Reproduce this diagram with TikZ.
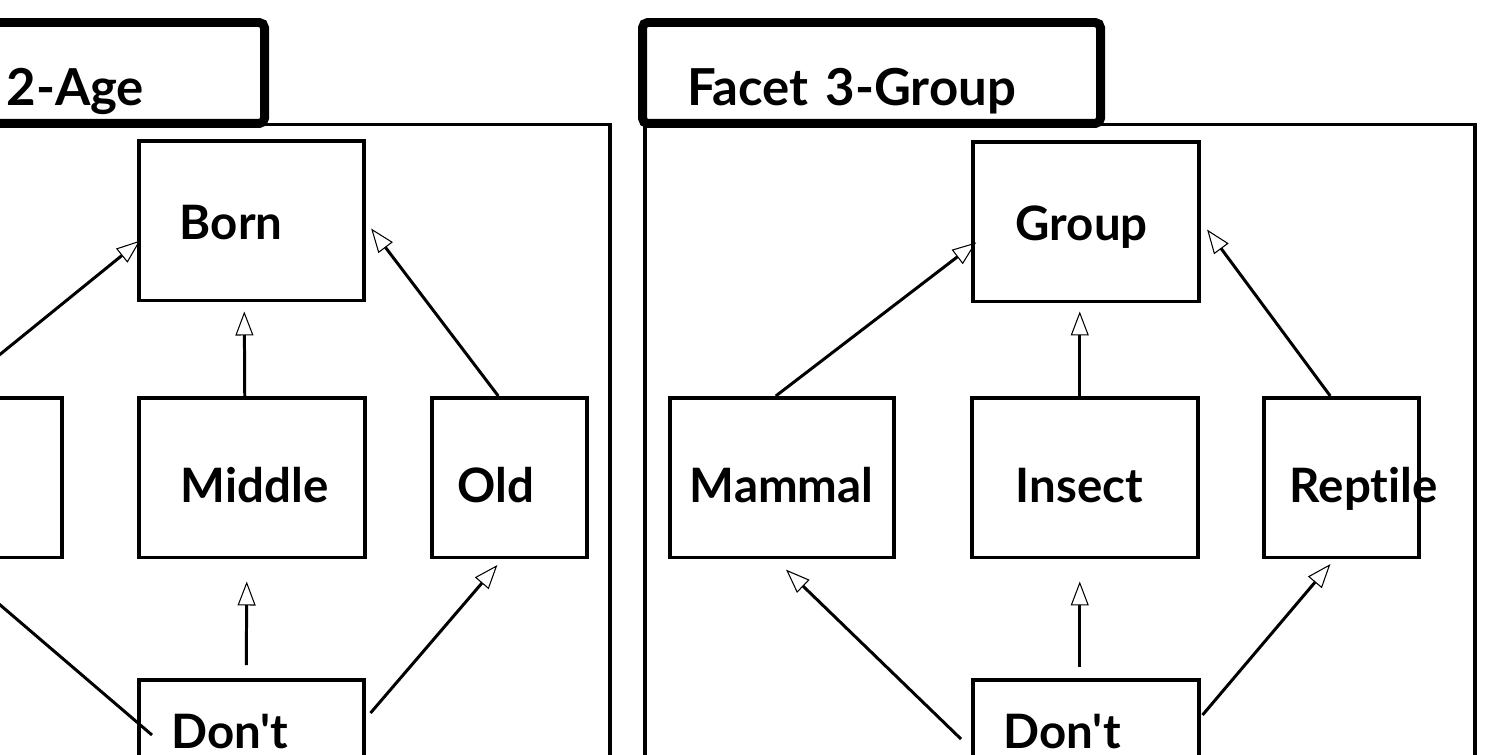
\documentclass[tikz,border=0pt]{standalone}
\usepackage{fontspec}
\newfontfamily\labelfont{Lato}[Ligatures=NoCommon]
\usetikzlibrary{arrows.meta, calc}
\hyphenpenalty=10000
\exhyphenpenalty=10000
\newdimen\pxu \pxu=0.02cm
\tikzset{
  every picture/.style={font=\labelfont\bfseries\fontsize{27}{32}\selectfont},
  wd/.code 2 args={\pgfmathsetlengthmacro\boxtw{(#1-2*#2)*\pxu}%
    \pgfmathsetlengthmacro\boxpad{#2*\pxu}%
    \pgfmathsetlengthmacro\boxw{#1*\pxu}%
    \tikzset{minimum width=\boxw, text width=\boxtw, inner xsep=\boxpad}},
  box/.style={draw, line width=2pt, fill=white, anchor=north west, minimum height=3.2cm, inner ysep=0pt, align=left},
  toprow/.style={box, text height=0.76cm, text depth=0pt},
  midrow/.style={box, text height=1cm, text depth=0pt},
  botrow/.style={box, text height=0.2cm, text depth=0.64cm},
  tab/.style={draw, line width=0.18cm, rounded corners=3pt, fill=white, anchor=north west, minimum height=2.02cm, inner ysep=0pt, align=left, text height=1.3cm, text depth=0pt, font=\labelfont\bfseries\fontsize{29}{35}\selectfont},
  frame/.style={draw, line width=2pt},
  link/.style={line width=1.7pt, -{Triangle[open, length=0.48cm, width=0.36cm, line width=0.6pt, sep=0.12cm]}},
}

\begin{document}
\begin{tikzpicture}[x=\pxu, y=-\pxu]
  \useasboundingbox (0,0) rectangle (1487,754);
  \clip (0,0) rectangle (1487,754);
  \draw[frame] (-220,124.5) rectangle (610,900);
  \draw[frame] (645,124.5) rectangle (1475,900);
  \node[tab, wd={487}{229}] (tabage) at (-227,18) {2-Age};
  \node[tab, wd={458}{45}] (tabgroup) at (638,18) {Facet 3-Group};

  \node[toprow, wd={225}{41}] (born) at (137,139) {Born};
  \node[midrow, wd={226}{20}] (young) at (-166,396) {};
  \node[midrow, wd={226}{42}] (middle) at (137,396) {Middle};
  \node[midrow, wd={155}{26}] (old) at (430,396) {Old};
  \node[botrow, wd={225}{33}] (dontage) at (137,678) {Don't};

  \node[toprow, wd={226}{43}] (group) at (971,140) {Group};
  \node[midrow, wd={224}{20}] (mammal) at (668,396) {Mammal};
  \node[midrow, wd={226}{44}] (insect) at (970,396) {Insect};
  \node[midrow, wd={155}{26}] (reptile) at (1262,396) {Reptile};
  \node[botrow, wd={226}{31}] (dontgroup) at (971,678) {Don't};

  \draw[link] (young.north) -- ($(born.west)+(8,16)$);
  \draw[link] ($(middle.north)+(-7,0)$) -- ($(born.south)+(-7,3)$);
  \draw[link] ($(old.north)+(-11,0)$) -- ($(born.east)+(2,3)$);
  \draw[link] ($(dontage.north west)+(15,57)$) -- ($(young.south)+(17,16)$);
  \draw[link, shorten <=0.26cm] ($(dontage.north)+(-5,0)$) -- ($(middle.south)+(-5,16)$);
  \draw[link] ($(dontage.north east)+(5,35)$) -- ($(old.south)+(-8,1)$);

  \draw[link] ($(mammal.north)+(-6,0)$) -- ($(group.west)+(10,17)$);
  \draw[link] ($(insect.north)+(-5,0)$) -- ($(group.south)+(-6,2)$);
  \draw[link] ($(reptile.north)+(-11,0)$) -- ($(group.east)+(3,3)$);
  \draw[link] ($(dontgroup.north west)+(-10,61)$) -- ($(mammal.south)+(0,6)$);
  \draw[link, shorten <=0.22cm] ($(dontgroup.north)+(-6,0)$) -- ($(insect.south)+(-5,16)$);
  \draw[link] ($(dontgroup.north east)+(2,37)$) -- ($(reptile.south)+(-7,0)$);
\end{tikzpicture}
\end{document}
